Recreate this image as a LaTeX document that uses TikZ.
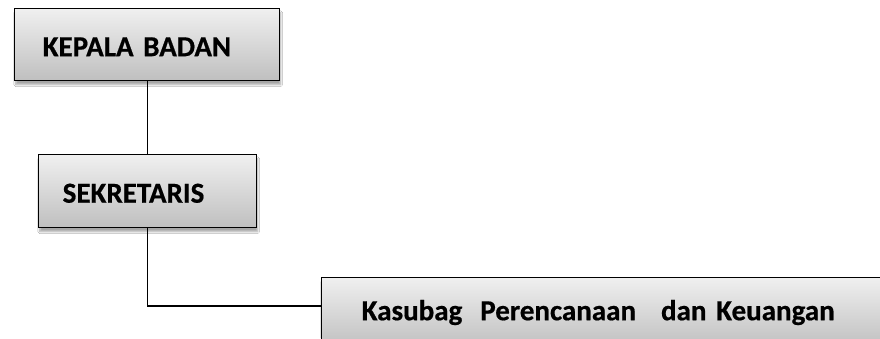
\documentclass[tikz,border=0pt]{standalone}
\usepackage{fontspec}
\setmainfont{Carlito}[BoldFeatures={FakeBold=0.6}]
\usetikzlibrary{shadows.blur,calc}
\begin{document}
\begin{tikzpicture}[x=1pt,y=1pt,
  orgbox/.style={draw=black, line width=1.4pt, rectangle, anchor=north west,
    top color=black!6, bottom color=black!25,
    blur shadow={shadow xshift=1pt, shadow yshift=-4pt, shadow opacity=35, shadow blur steps=6},
    font=\bfseries\fontsize{29}{33}\selectfont, align=left, inner ysep=0pt,
    text height=23pt, text depth=0pt},
  conn/.style={draw=black, line width=1.3pt}]
\useasboundingbox (0,0) rectangle (880,-338);
\clip (0,0) rectangle (880,-338);
\fill[white] (0,0) rectangle (880,-338);
\node[orgbox, minimum width=265, minimum height=72, text width=209, inner xsep=28] (kepala) at (14,-8) {KEPALA BADAN};
\node[orgbox, minimum width=218, minimum height=73, text width=170, inner xsep=24] (sekr) at (38,-154) {SEKRETARIS};
\node[orgbox, minimum width=600, minimum height=70, text width=520, inner xsep=36, text height=18pt, text depth=3pt] (kasubag) at (321,-277) {Kasubag\hspace{18pt}Perencanaan\hspace{25pt}dan Keuangan};
\coordinate (kin) at ($(kasubag.north west)+(0,-29)$);
\draw[conn] (kepala.south) -- (kepala.south |- sekr.north);
\draw[conn] (sekr.south) |- (kin);
\end{tikzpicture}
\end{document}
